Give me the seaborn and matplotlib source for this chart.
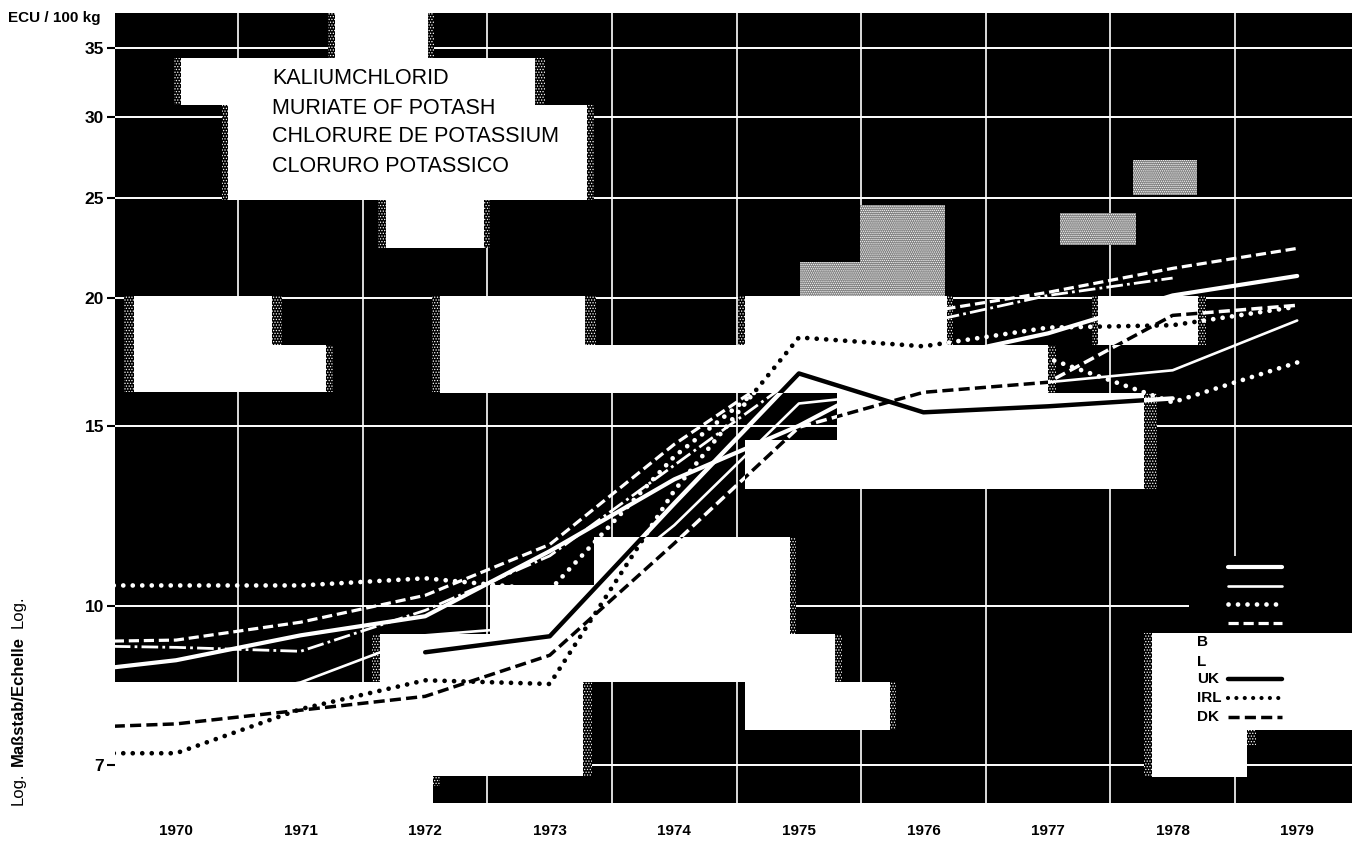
import numpy as np
import matplotlib
matplotlib.use("Agg")
import matplotlib.pyplot as plt
import seaborn as sns
from matplotlib.lines import Line2D
from matplotlib.patches import Rectangle
from matplotlib.path import Path

nan = float("nan")
years = [1969.5, 1970, 1971, 1972, 1973, 1974, 1975, 1976, 1977, 1978, 1979]
year_labels = [1970, 1971, 1972, 1973, 1974, 1975, 1976, 1977, 1978, 1979]
y_ticks = [7, 10, 15, 20, 25, 30, 35]

# white lines on the dark ground
thick_white = [8.72, 8.86, 9.37, 9.78, 11.32, 13.3, 15.0, 17.38, 18.46, 20.1, 21.0]
thin_white = [7.74, 8.01, 8.43, 9.37, 9.58, 12.0, 15.77, 16.24, 16.54, 16.99, 19.0]
dotted_white = [10.48, 10.48, 10.48, 10.65, 10.37, 14.0, 17.5, 17.6, 17.45, 15.81, 17.29]
dashed_white = [9.25, 9.27, 9.65, 10.25, 11.49, 14.39, 17.38, 19.35, 20.24, 21.36, 22.34]
dashdot_white = [9.14, 9.12, 9.04, 9.91, 11.2, 13.73, 16.8, 18.9, 20.1, 20.9, nan]
# lines that flip between black and white with the ground
uk = [nan, nan, nan, 9.02, 9.35, 12.6, 16.87, 15.46, 15.67, 15.95, nan]
irl = [7.19, 7.19, 7.94, 8.47, 8.40, 12.97, 18.29, 17.93, 18.7, 18.8, 19.6]
dk = [7.64, 7.68, 7.92, 8.17, 8.96, 11.52, 14.95, 16.17, 16.54, 19.22, 19.66]

title_lines = ["KALIUMCHLORID", "MURIATE OF POTASH", "CHLORURE DE POTASSIUM", "CLORURO POTASSICO"]

W, H = 1357, 844
L, T, R, B = 115, 13, 1352, 803

white_blocks = [
    (335, 13, 428, 60), (181, 58, 535, 105), (228, 105, 587, 200), (386, 200, 484, 248),
    (134, 296, 272, 392), (134, 345, 326, 392), (440, 296, 585, 392), (440, 345, 1048, 393),
    (745, 296, 947, 345), (1098, 296, 1198, 345), (837, 393, 1144, 489), (745, 440, 1144, 489),
    (594, 537, 790, 682), (490, 585, 600, 682), (380, 634, 835, 682), (115, 682, 583, 776),
    (115, 776, 433, 803), (745, 682, 890, 730), (1152, 633, 1352, 730), (1152, 730, 1247, 777),
]
speckle_blocks = [
    (124, 296, 134, 392), (272, 296, 282, 345), (326, 345, 333, 392), (432, 296, 440, 392),
    (585, 296, 596, 345), (174, 58, 181, 105), (535, 58, 545, 105), (587, 105, 594, 200),
    (222, 105, 228, 200), (378, 200, 386, 248), (484, 200, 490, 248), (328, 13, 335, 60),
    (428, 13, 434, 60), (738, 296, 745, 345), (947, 296, 953, 345), (1048, 345, 1056, 393),
    (1144, 393, 1157, 489), (1092, 296, 1098, 345), (1198, 296, 1206, 345), (583, 682, 592, 776),
    (430, 776, 440, 786), (890, 682, 896, 730), (835, 634, 842, 682), (790, 537, 796, 634),
    (1144, 633, 1152, 777), (1247, 730, 1256, 745), (372, 634, 380, 682),
]
bright_speckle_blocks = [
    (800, 262, 860, 296), (860, 205, 945, 296), (1060, 213, 1136, 245), (1133, 160, 1197, 195),
]
erased_grid = [(1189, 556, 1352, 633)]

sns.set_theme(style="white")
plt.rcParams["font.family"] = ["Liberation Sans", "DejaVu Sans"]
plt.rcParams["hatch.linewidth"] = 0.6

fig = plt.figure(figsize=(W / 100, H / 100), dpi=100, facecolor="white")
ax = fig.add_axes([L / W, 1 - B / H, (R - L) / W, (B - T) / H], facecolor="black")

def fx(x):
    return x / W

def fy(y):
    return 1 - y / H

def rect(box, **kw):
    l, t, r, b = box
    p = Rectangle((fx(l), fy(b)), (r - l) / W, (b - t) / H, transform=fig.transFigure, lw=0, **kw)
    ax.add_patch(p)
    return p

ax.set_yscale("log")
ax.set_xlim(1969.51, 1979.44)
ax.set_ylim(6.43, 37.9)
ax.set_yticks(y_ticks)
ax.set_yticklabels([str(v) for v in y_ticks], fontsize=12.5, fontweight="bold", color="black")
ax.yaxis.set_minor_locator(matplotlib.ticker.NullLocator())
ax.set_xticks(year_labels)
ax.set_xticklabels([str(v) for v in year_labels], fontsize=11, fontweight="bold", color="black")
ax.set_xticks([v + 0.5 for v in year_labels[:-1]], minor=True)
ax.tick_params(axis="y", which="major", length=6, width=1.5, color="black", pad=2, left=True)
ax.tick_params(axis="x", which="major", length=0, pad=15)
ax.tick_params(axis="x", which="minor", length=0)
ax.grid(True, axis="y", which="major", color="white", lw=1.4, zorder=1)
ax.grid(True, axis="x", which="minor", color="white", lw=1.2, zorder=1)
ax.grid(False, axis="x", which="major")
ax.set_axisbelow(True)
sns.despine(ax=ax, left=True, bottom=True, right=True, top=True)

for box in erased_grid:
    rect(box, facecolor="black", zorder=1.2)
for box in speckle_blocks:
    rect(box, facecolor="black", edgecolor="white", hatch="......", zorder=1.5)
for box in bright_speckle_blocks:
    rect(box, facecolor="#808080", edgecolor="white", hatch="........", zorder=1.5)
for box in white_blocks:
    rect(box, facecolor="white", zorder=2)

verts, codes = [], []
for l, t, r, b in white_blocks:
    verts += [(fx(l), fy(b)), (fx(r), fy(b)), (fx(r), fy(t)), (fx(l), fy(t)), (fx(l), fy(b))]
    codes += [Path.MOVETO, Path.LINETO, Path.LINETO, Path.LINETO, Path.CLOSEPOLY]
white_ground = Path(verts, codes)

DOT = (0, (0.01, 2.0))
DASH = (0, (3.2, 1.5))
DASHDOT = (0, (6, 1.5, 1, 1.5))

def draw(values, color, lw, ls, z, clip=False):
    sns.lineplot(x=years, y=values, ax=ax, color=color, linewidth=lw, linestyle=ls,
                 errorbar=None, legend=False, zorder=z)
    line = ax.lines[-1]
    line.set_dash_capstyle("round" if ls == DOT else "butt")
    if clip:
        line.set_clip_path(white_ground, fig.transFigure)

draw(thin_white, "white", 1.9, "-", 3)
draw(thick_white, "white", 3.0, "-", 3)
draw(dashdot_white, "white", 2.0, DASHDOT, 3)
draw(dashed_white, "white", 2.3, DASH, 3)
draw(dotted_white, "white", 3.4, DOT, 3)
for values, lw, ls in [(uk, 3.2, "-"), (irl, 3.4, DOT), (dk, 2.5, DASH)]:
    draw(values, "white", lw, ls, 3)
    draw(values, "black", lw, ls, 4, clip=True)

for i, s in enumerate(title_lines):
    ax.text(fx(272), fy(79 + 29 * i), s, transform=fig.transFigure, fontsize=15.5,
            color="black", va="center", ha="left", zorder=6)

fig.text(fx(8), fy(18), "ECU / 100 kg", fontsize=11, fontweight="bold", color="black", va="center", ha="left")
for s, y, wt in [("Log.", 805, "normal"), ("Maßstab/Echelle", 766, "bold"), ("Log.", 628, "normal")]:
    fig.text(fx(18), fy(y), s, rotation=90, fontsize=12, fontweight=wt, color="black", va="bottom", ha="center")

legend_rows = [
    ("", "white", 3.0, "-", 567), ("", "white", 1.9, "-", 586), ("", "white", 3.4, DOT, 604),
    ("", "white", 2.3, DASH, 623), ("B", None, 0, "-", 642), ("L", None, 0, "-", 662),
    ("UK", "black", 3.2, "-", 679), ("IRL", "black", 3.0, DOT, 698), ("DK", "black", 2.5, DASH, 717),
]
for label, color, lw, ls, y in legend_rows:
    if label:
        fig.text(fx(1197), fy(y), label, fontsize=11, fontweight="bold", color="black", va="center", ha="left", zorder=7)
    if color:
        ln = Line2D([fx(1228), fx(1282)], [fy(y), fy(y)], transform=fig.transFigure, color=color,
                    lw=lw, linestyle=ls, zorder=7)
        ln.set_dash_capstyle("round" if ls == DOT else "butt")
        fig.add_artist(ln)

fig.savefig("out.png", dpi=100, facecolor="white")
